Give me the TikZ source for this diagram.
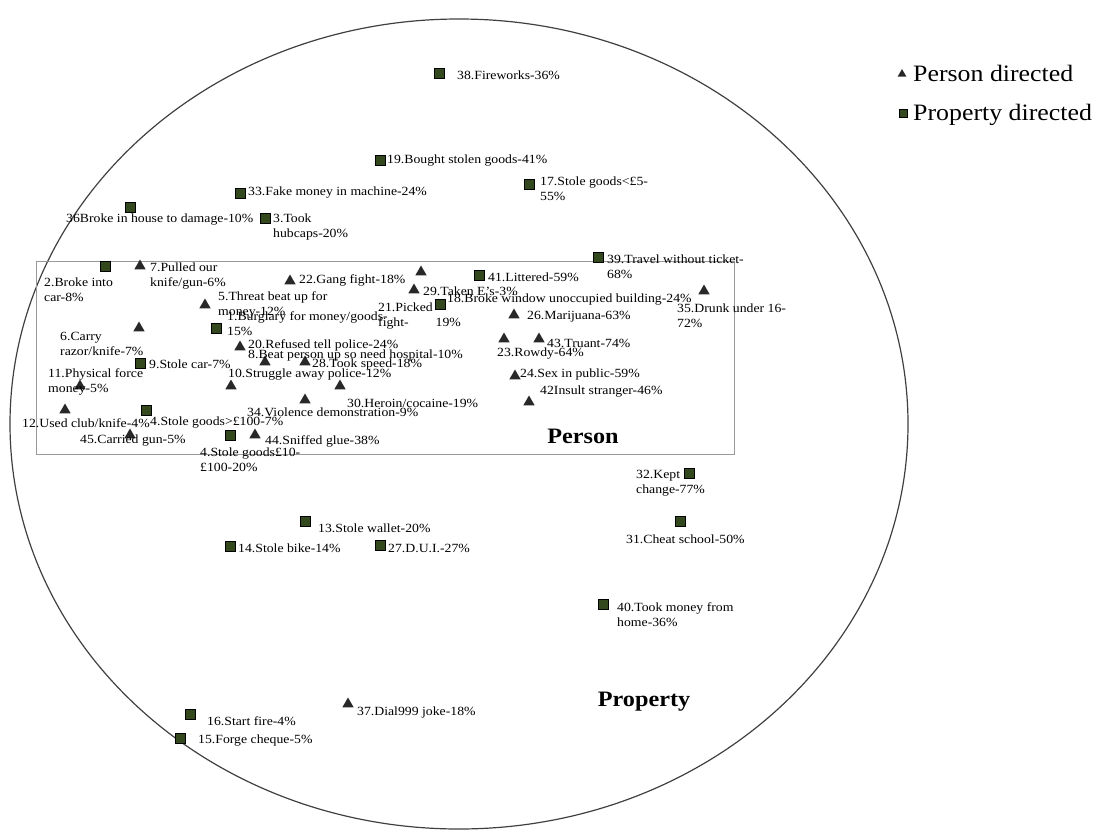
\documentclass[tikz,border=0pt]{standalone}
\usepackage{fontspec}
\setmainfont[FakeStretch=1.1]{Liberation Serif}
\usetikzlibrary{shapes.geometric}
\definecolor{propgreen}{RGB}{52,72,30}
\definecolor{persgray}{RGB}{40,40,40}

\begin{document}
\begin{tikzpicture}[x=1pt, y=-1pt,
    tri/.style={regular polygon, regular polygon sides=3, fill=persgray, inner sep=0pt, minimum size=13pt},
    sq/.style={rectangle, draw=black, fill=propgreen, line width=0.5pt, inner sep=0pt, minimum size=10.5pt},
    lab/.style={anchor=west, inner sep=0pt, align=left, font=\fontsize{12.5}{15}\selectfont},
    axis/.style={font=\fontsize{22}{26}\selectfont\bfseries},
    key/.style={anchor=west, inner sep=0pt, font=\fontsize{23.5}{27}\selectfont}]
        \useasboundingbox (0, 0) rectangle (1095, 830);
        \draw [line width=1.2pt] [black!75] (459, 424) ellipse [x radius=449pt, y radius=405pt];
        \draw [line width=1pt] [black!40] (36, 261) rectangle (734, 454);
        % property directed
        \node [sq] (p38) at (439, 73) {};
        \node [sq] (p19) at (380, 160) {};
        \node [sq] (p17) at (529, 184) {};
        \node [sq] (p33) at (240, 193) {};
        \node [sq] (p36) at (130, 207) {};
        \node [sq] (p3) at (265, 218) {};
        \node [sq] (p39) at (598, 257) {};
        \node [sq] (p2) at (105, 266) {};
        \node [sq] (p41) at (479, 275) {};
        \node [sq] (p18) at (440, 304) {};
        \node [sq] (p1) at (216, 328) {};
        \node [sq] (p9) at (140, 363) {};
        \node [sq] (p46) at (146, 410) {};
        \node [sq] (p4) at (230, 435) {};
        \node [sq] (p32) at (689, 473) {};
        \node [sq] (p13) at (305, 521) {};
        \node [sq] (p31) at (680, 521) {};
        \node [sq] (p14) at (230, 546) {};
        \node [sq] (p27) at (380, 545) {};
        \node [sq] (p40) at (603, 604) {};
        \node [sq] (p16) at (190, 714) {};
        \node [sq] (p15) at (180, 738) {};
        % person directed
        \node [tri] (p7) at (140, 266) {};
        \node [tri] (p22) at (290, 281) {};
        \node [tri] (p21) at (421, 272) {};
        \node [tri] (p29) at (414, 290) {};
        \node [tri] (p35) at (704, 291) {};
        \node [tri] (p5) at (205, 305) {};
        \node [tri] (p26) at (514, 315) {};
        \node [tri] (p6) at (139, 328) {};
        \node [tri] (p23) at (504, 339) {};
        \node [tri] (p43) at (539, 339) {};
        \node [tri] (p20) at (240, 347) {};
        \node [tri] (p8) at (265, 362) {};
        \node [tri] (p28) at (305, 362) {};
        \node [tri] (p24) at (515, 376) {};
        \node [tri] (p11) at (80, 386) {};
        \node [tri] (p10) at (231, 386) {};
        \node [tri] (p30) at (340, 386) {};
        \node [tri] (p34) at (305, 400) {};
        \node [tri] (p42) at (529, 402) {};
        \node [tri] (p12) at (65, 410) {};
        \node [tri] (p45) at (130, 435) {};
        \node [tri] (p44) at (255, 435) {};
        \node [tri] (p37) at (348, 704) {};
        % labels
        \node [lab] (l38) at (457, 75) {38.Fireworks-36\%};
        \node [lab] (l19) at (387, 161) {19.Bought stolen goods-41\%};
        \node [lab] (l17) at (540, 189) {17.Stole goods<£5-\\55\%};
        \node [lab] (l33) at (248, 193) {33.Fake money in machine-24\%};
        \node [lab] (l36) at (66, 220) {36Broke in house to damage-10\%};
        \node [lab] (l3) at (273, 227) {3.Took\\hubcaps-20\%};
        \node [lab] (l39) at (607, 267) {39.Travel without ticket-\\68\%};
        \node [lab] (l2) at (44, 290) {2.Broke into\\car-8\%};
        \node [lab] (l7) at (150, 276) {7.Pulled our\\knife/gun-6\%};
        \node [lab] (l22) at (299, 280) {22.Gang fight-18\%};
        \node [lab] (l21) at (378, 316) {21.Picked\\fight-\hspace{27pt}19\%};
        \node [lab] (l41) at (488, 277) {41.Littered-59\%};
        \node [lab] (l29) at (423, 291) {29.Taken E's-3\%};
        \node [lab] (l18) at (447, 300) {18.Broke window unoccupied building-24\%};
        \node [lab] (l35) at (677, 316) {35.Drunk under 16-\\72\%};
        \node [lab] (l5) at (218, 305) {5.Threat beat up for\\money-12\%};
        \node [lab] (l1) at (227, 324) {1.Burglary for money/goods-\\15\%};
        \node [lab] (l6) at (60, 344) {6.Carry\\razor/knife-7\%};
        \node [lab] (l9) at (149, 364) {9.Stole car-7\%};
        \node [lab] (l20) at (248, 345) {20.Refused tell police-24\%};
        \node [lab] (l8) at (248, 355) {8.Beat person up so need hospital-10\%};
        \node [lab] (l28) at (312, 364) {28.Took speed-18\%};
        \node [lab] (l10) at (228, 375) {10.Struggle away police-12\%};
        \node [lab] (l26) at (527, 317) {26.Marijuana-63\%};
        \node [lab] (l23) at (497, 354) {23.Rowdy-64\%};
        \node [lab] (l43) at (547, 343) {43.Truant-74\%};
        \node [lab] (l24) at (520, 374) {24.Sex in public-59\%};
        \node [lab] (l42) at (540, 392) {42Insult stranger-46\%};
        \node [lab] (l11) at (48, 382) {11.Physical force\\money-5\%};
        \node [lab] (l30) at (347, 403) {30.Heroin/cocaine-19\%};
        \node [lab] (l34) at (247, 412) {34.Violence demonstration-9\%};
        \node [lab] (l12) at (22, 423) {12.Used club/knife-4\%};
        \node [lab] (l46) at (150, 423) {4.Stole goods>£100-7\%};
        \node [lab] (l45) at (80, 441) {45.Carried gun-5\%};
        \node [lab] (l4) at (200, 460) {4.Stole goods£10-\\£100-20\%};
        \node [lab] (l44) at (265, 441) {44.Sniffed glue-38\%};
        \node [lab] (l32) at (636, 483) {32.Kept\\change-77\%};
        \node [lab] (l13) at (318, 528) {13.Stole wallet-20\%};
        \node [lab] (l31) at (626, 539) {31.Cheat school-50\%};
        \node [lab] (l14) at (238, 548) {14.Stole bike-14\%};
        \node [lab] (l27) at (388, 548) {27.D.U.I.-27\%};
        \node [lab] (l40) at (617, 615) {40.Took money from\\home-36\%};
        \node [lab] (l37) at (357, 712) {37.Dial999 joke-18\%};
        \node [lab] (l16) at (207, 721) {16.Start fire-4\%};
        \node [lab] (l15) at (198, 741) {15.Forge cheque-5\%};
        % regions
        \node [axis] (person) at (583, 436) {Person};
        \node [axis] (property) at (644, 702) {Property};
        % legend
        \node [tri, minimum size=10pt] (k1) at (902, 74) {};
        \node [key] (k1t) at (913, 73) {Person directed};
        \node [sq, minimum size=8pt] (k2) at (903, 113) {};
        \node [key] (k2t) at (913, 115) {Property directed};
\end{tikzpicture}
\end{document}
